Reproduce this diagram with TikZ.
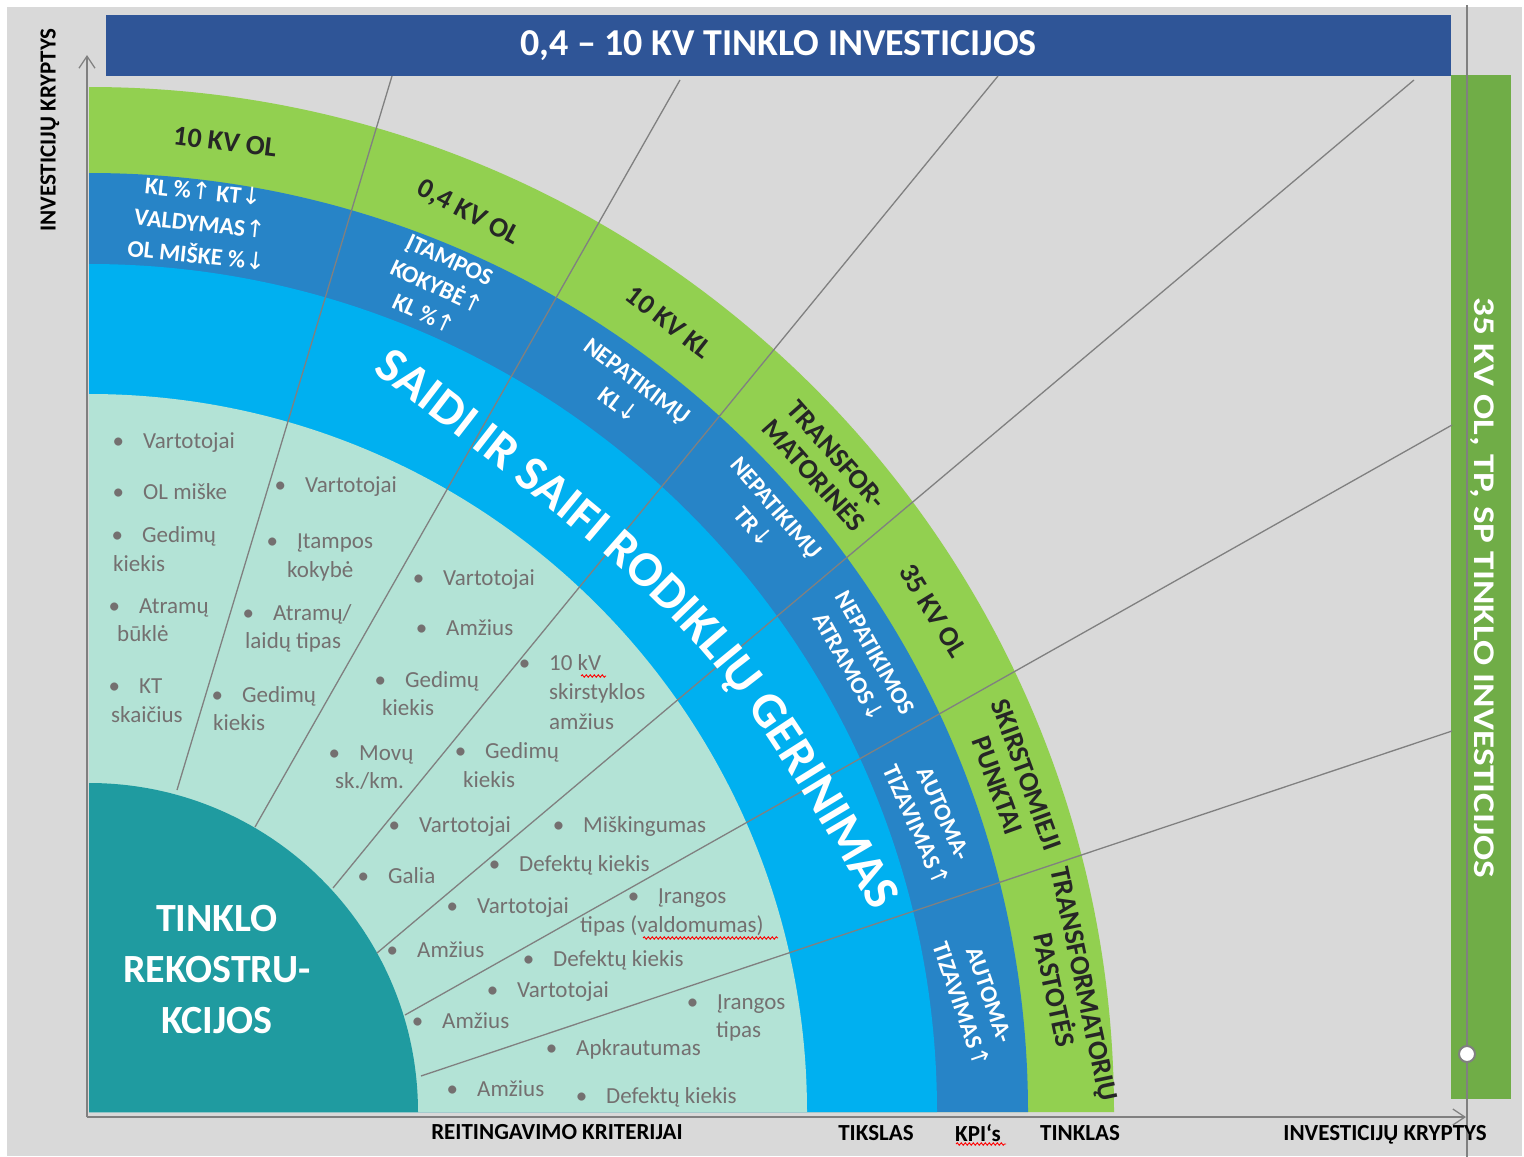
\documentclass[tikz,border=0pt]{standalone}
\usepackage{fontspec}
\setmainfont{Carlito}
\newfontfamily\arrowfont{DejaVu Sans}
\usepackage{tikz}
\usetikzlibrary{arrows.meta,shapes,decorations.text,decorations.pathmorphing,positioning}

\definecolor{bggray}{HTML}{D9D9D9}
\definecolor{bannerblue}{HTML}{2F5597}
\definecolor{bargreen}{HTML}{70AD47}
\definecolor{ringgreen}{HTML}{92D050}
\definecolor{kpiblue}{HTML}{2784C7}
\definecolor{saidicyan}{HTML}{00B0F0}
\definecolor{critmint}{HTML}{B3E3D6}
\definecolor{recteal}{HTML}{1F9BA0}
\definecolor{raygray}{HTML}{808080}
\definecolor{critgray}{HTML}{747070}
\definecolor{darktext}{HTML}{262626}

\newcommand{\arrup}{{\arrowfont\mdseries↑}}
\newcommand{\arrdn}{{\arrowfont\mdseries↓}}
\newcommand{\critbul}{\llap{•\hspace{19pt}}}
\newcommand{\saidifont}{\fontsize{50}{52}\selectfont\bfseries}

\begin{document}
\begin{tikzpicture}[x=1pt,y=-1pt]

	\tikzstyle{crit} = [anchor=base west, inner sep=0pt, text=critgray, font=\fontsize{23}{28}\selectfont]
	\tikzstyle{netlbl} = [align=center, inner sep=0pt, text=darktext, font=\fontsize{28}{31}\selectfont\bfseries]
	\tikzstyle{kpilbl} = [align=center, inner sep=0pt, text=white, font=\fontsize{24}{30}\selectfont\bfseries]
	\tikzstyle{axislbl} = [inner sep=0pt, text=black, font=\fontsize{23}{26}\selectfont\bfseries]
	\tikzstyle{ray} = [draw=raygray, line width=1.3pt]
	\tikzstyle{axisline} = [draw=raygray, line width=1.3pt, -{Straight Barb[length=12pt,width=16pt]}]
	\tikzstyle{spell} = [draw=red, line width=0.9pt, decorate, decoration={snake, amplitude=1.2pt, segment length=4pt}]

	% page
	\useasboundingbox (0,0) rectangle (1524,1157);
	\fill[white] (0,0) rectangle (1524,1157);
	\fill[bggray] (7,7) rectangle (1522,1156);

	% banner and side bar
	\node (banner) [fill=bannerblue, minimum width=1345pt, minimum height=61pt, inner sep=0pt,
		text=white, font=\fontsize{38}{40}\selectfont\bfseries] at (778.5,45.5) {0,4 – 10 KV TINKLO INVESTICIJOS};
	\node (sidebar) [fill=bargreen, minimum width=60pt, minimum height=1024pt, inner sep=0pt] at (1481,587) {};

	% rings
	\coordinate (c) at (89,1112);
	\fill[ringgreen] (c) -- ++(1025pt,0pt) arc[start angle=0, end angle=90, radius=1025pt] -- cycle;
	\fill[kpiblue] (c) -- ++(939pt,0pt) arc[start angle=0, end angle=90, radius=939pt] -- cycle;
	\fill[saidicyan] (c) -- ++(848pt,0pt) arc[start angle=0, end angle=90, radius=848pt] -- cycle;
	\fill[critmint] (c) -- ++(718pt,0pt) arc[start angle=0, end angle=90, radius=718pt] -- cycle;
	\fill[recteal] (c) -- ++(329pt,0pt) arc[start angle=0, end angle=90, radius=329pt] -- cycle;

	% rays
	\foreach \ax/\ay/\bx/\by [count=\i] in {177/790/392/76, 255/827/680/80, 333/888/998/76,
		377/953/1414/80, 405/1015/1452/425, 421/1076/1452/731} {
		\coordinate (ray\i a) at (\ax,\ay);
		\coordinate (ray\i b) at (\bx,\by);
		\draw[ray] (ray\i a) -- (ray\i b);
	}

	% side line
	\coordinate (vtop) at (1467,5);
	\coordinate (vbot) at (1467,1157);
	\draw[ray] (vtop) -- (vbot);
	\node (knob) [circle, draw=raygray, line width=2pt, fill=white, minimum size=16pt, inner sep=0pt] at (1467,1054) {};
	\node (sidetext) [rotate=-90, text=white, font=\fontsize{30}{33}\selectfont\bfseries] at (1482,588)
		{\scalebox{1.24}[1]{35 KV OL, TP, SP TINKLO INVESTICIJOS}};

	% network ring
	\node (ol10) [netlbl, rotate=-7] at (225,142) {10 KV OL};
	\node (ol04) [netlbl, rotate=-28] at (468,213) {0,4 KV OL};
	\node (kl10) [netlbl, rotate=-38] at (669,322) {10 KV KL};
	\node (trafo) [netlbl, rotate=-48.5] at (825,465) {TRANSFOR-\\MATORINĖS};
	\node (ol35) [netlbl, rotate=-58.5] at (933,611) {35 KV OL};
	\node (skirst) [netlbl, rotate=-70] at (1012,780) {SKIRSTOMIEJI\\PUNKTAI};
	\node (pastot) [netlbl, rotate=-78] at (1069,987) {TRANSFORMATORIŲ\\PASTOTĖS};

	% kpi ring
	\node (kpi1) [kpilbl, rotate=-6, font=\fontsize{24}{32}\selectfont\bfseries] at (200,223)
		{KL \%\arrup{} KT\arrdn\\VALDYMAS\arrup\\OL MIŠKE \%\arrdn};
	\node (kpi2) [kpilbl, rotate=-25] at (437,287) {ĮTAMPOS\\KOKYBĖ\arrup\\KL \%\arrup};
	\node (kpi3) [kpilbl, rotate=-37] at (628,393) {NEPATIKIMŲ\\KL\arrdn};
	\node (kpi4) [kpilbl, rotate=-49] at (765,518) {NEPATIKIMŲ\\TR\arrdn};
	\node (kpi5) [kpilbl, rotate=-61] at (862,660) {NEPATIKIMOS\\ATRAMOS\arrdn};
	\node (kpi6) [kpilbl, rotate=-66] at (930,820) {AUTOMA-\\TIZAVIMAS\arrup};
	\node (kpi7) [kpilbl, rotate=-71] at (975,1000) {AUTOMA-\\TIZAVIMAS\arrup};

	% goal ring
	\coordinate (saidiA) at (336,343);
	\coordinate (saidiC) at (711,630);
	\coordinate (saidiB) at (896,952);
	\path[decorate, decoration={text along path, text align=center, text color=white,
		text={|\saidifont|SAIDI IR SAIFI RODIKLIŲ GERINIMAS}}]
		(saidiA) .. controls (saidiC) .. (saidiB);

	% criteria
	\foreach \x/\y/\t [count=\i] in {
		143/448/{\critbul Vartotojai}, 143/499/{\critbul OL miške},
		142/542/{\critbul Gedimų}, 113/571/{kiekis},
		139/613/{\critbul Atramų}, 117/641/{būklė},
		139/693/{\critbul KT}, 111/722/{skaičius},
		305/492/{\critbul Vartotojai},
		297/548/{\critbul Įtampos}, 287/577/{kokybė},
		273/620/{\critbul Atramų/}, 245/648/{laidų tipas},
		242/702/{\critbul Gedimų}, 213/730/{kiekis},
		443/585/{\critbul Vartotojai}, 446/635/{\critbul Amžius},
		405/687/{\critbul Gedimų}, 382/715/{kiekis},
		359/760/{\critbul Movų}, 335/788/{sk./km.},
		549/670/{\critbul 10 kV}, 549/699/{skirstyklos}, 549/729/{amžius},
		485/758/{\critbul Gedimų}, 463/787/{kiekis},
		419/832/{\critbul Vartotojai}, 388/883/{\critbul Galia},
		583/832/{\critbul Miškingumas}, 519/871/{\critbul Defektų kiekis},
		477/913/{\critbul Vartotojai}, 417/957/{\critbul Amžius},
		658/903/{\critbul Įrangos}, 580/932/{tipas (valdomumas)},
		553/966/{\critbul Defektų kiekis}, 517/997/{\critbul Vartotojai},
		442/1028/{\critbul Amžius},
		717/1009/{\critbul Įrangos}, 716/1037/{tipas},
		576/1055/{\critbul Apkrautumas}, 477/1096/{\critbul Amžius},
		606/1103/{\critbul Defektų kiekis}} {
		\node (crit\i) [crit] at (\x,\y) {\t};
	}
	\draw[spell] (581,676) -- (606,676);
	\draw[spell] (643,938) -- (778,938);

	% centre
	\node (recon) [align=center, inner sep=0pt, text=white, font=\fontsize{40}{51}\selectfont\bfseries]
		at (217,970) {TINKLO\\REKOSTRU-\\KCIJOS};

	% axes
	\coordinate (orig) at (87,1117);
	\coordinate (yend) at (87,55);
	\coordinate (xend) at (1466,1117);
	\draw[axisline] (orig) -- (yend);
	\draw[axisline] (orig) -- (xend);

	\node (lblinvy) [axislbl, rotate=90] at (50,130) {INVESTICIJŲ KRYPTYS};
	\node (lblcrit) [axislbl] at (557,1132) {REITINGAVIMO KRITERIJAI};
	\node (lblgoal) [axislbl] at (876,1133) {TIKSLAS};
	\node (lblkpi) [axislbl] at (978,1133) {KPI‘s};
	\node (lblnet) [axislbl] at (1080,1133) {TINKLAS};
	\node (lblinvx) [axislbl] at (1385,1135) {INVESTICIJŲ KRYPTYS};
	\draw[spell] (956,1144) -- (1006,1144);

\end{tikzpicture}
\end{document}
